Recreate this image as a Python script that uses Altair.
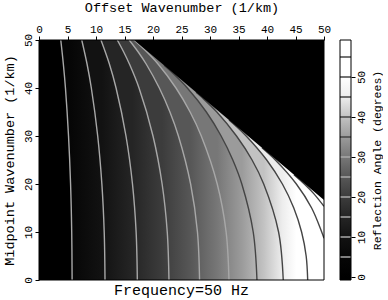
import altair as alt
import pandas as pd

# ---------------- values ----------------
x_ticks = [0, 5, 10, 15, 20, 25, 30, 35, 40, 45, 50]
y_ticks = [0, 10, 20, 30, 40, 50]
cbar_ticks = [0, 10, 20, 30, 40, 50]
cbar_range = [-0.75, 59.25]

# grey level (0-255) of the colour bar at each angle
cbar_angles = [0, 5, 10, 15, 20, 25, 30, 35, 40, 45, 50, 55, 60]
cbar_gray = [0, 6, 18, 37, 60, 87, 119, 155, 194, 237, 255, 255, 255]

# contour levels (degrees) and where each contour crosses (midpoint ky, offset kh)
levels = [5, 10, 15, 20, 25, 30, 35, 40, 45, 50, 55]
c05_ky = [0, 10, 20, 30, 40, 45, 50]
c05_kh = [5.81, 5.74, 5.54, 5.18, 4.64, 4.27, 3.82]
c10_ky = [0, 10, 20, 30, 40, 45, 50]
c10_kh = [11.58, 11.44, 11.03, 10.30, 9.18, 8.43, 7.50]
c15_ky = [0, 10, 20, 30, 40, 45, 50]
c15_kh = [17.25, 17.04, 16.40, 15.26, 13.52, 12.35, 10.87]
c20_ky = [0, 10, 20, 30, 40, 45, 47.5, 50]
c20_kh = [22.80, 22.50, 21.60, 20.00, 17.55, 15.86, 14.86, 13.73]
c25_ky = [0, 10, 20, 30, 35, 40, 45, 47.5, 50]
c25_kh = [28.17, 27.80, 26.60, 24.46, 22.97, 21.11, 18.80, 17.41, 15.82]
c30_ky = [0, 10, 20, 30, 35, 40, 45, 48, 50]
c30_kh = [33.33, 32.83, 31.27, 28.47, 26.51, 24.03, 20.88, 18.50, 16.67]
c35_ky = [0, 10, 20, 25, 30, 35, 40, 43, 44.74]
c35_kh = [38.24, 37.58, 35.58, 34.00, 31.95, 29.36, 26.02, 23.55, 21.93]
c40_ky = [0, 10, 20, 25, 30, 35, 38, 39.12]
c40_kh = [42.85, 42.03, 39.42, 37.38, 34.65, 31.20, 28.62, 27.55]
c45_ky = [0, 5, 10, 15, 20, 25, 30, 32, 33.33]
c45_kh = [47.14, 46.87, 46.07, 44.70, 42.70, 39.95, 36.35, 34.62, 33.33]
c50_ky = [8.7, 10, 15, 20, 25, 27.55]
c50_kh = [50.0, 49.6, 47.83, 45.15, 41.47, 39.12]
c55_ky = [15.35, 18, 20, 21.94]
c55_kh = [50.0, 48.2, 46.55, 44.73]

# edge of the evanescent (black) region
boundary_kh = [50.0, 16.67]
boundary_ky = [16.67, 50.0]

# ---------------- styling ----------------
FONT = "Liberation Mono"
W, H = 285, 240
CB_W = 11
REF_KY = 20

contours = list(zip(levels,
                    [c05_ky, c10_ky, c15_ky, c20_ky, c25_ky, c30_ky, c35_ky, c40_ky, c45_ky, c50_ky, c55_ky],
                    [c05_kh, c10_kh, c15_kh, c20_kh, c25_kh, c30_kh, c35_kh, c40_kh, c45_kh, c50_kh, c55_kh]))


def gray_hex(angle):
    g = cbar_gray[cbar_angles.index(angle)]
    return "#{0:02x}{0:02x}{0:02x}".format(g)


def line_color(angle):
    return "#a8a8a8" if angle <= 30 else "#444444"


xs = alt.Scale(domain=[0, 50], nice=False, zero=False)
ys = alt.Scale(domain=[0, 50], nice=False, zero=False)
x_axis = alt.Axis(orient="top", values=x_ticks, title="Offset Wavenumber (1/km)",
                  tickSize=4, labelPadding=2, titlePadding=9, domain=False,
                  labelAngle=0, labelAlign="center", labelBaseline="bottom")
y_axis = alt.Axis(orient="left", values=y_ticks, title="Midpoint Wavenumber (1/km)",
                  tickSize=4, labelPadding=2, titlePadding=6, domain=False,
                  labelAngle=270, labelAlign="center", labelBaseline="bottom")
one = pd.DataFrame({"a": [0]})


def X(field):
    return alt.X(field, scale=xs, axis=x_axis, title="Offset Wavenumber (1/km)")


def Y(field):
    return alt.Y(field, scale=ys, axis=y_axis, title="Midpoint Wavenumber (1/km)")


base = alt.Chart(one).mark_rect(fill="black").encode(
    x=alt.XDatum(0, scale=xs, axis=x_axis, title="Offset Wavenumber (1/km)"),
    x2=alt.X2Datum(50),
    y=alt.YDatum(0, scale=ys, axis=y_axis, title="Midpoint Wavenumber (1/km)"),
    y2=alt.Y2Datum(50),
)

areas = []
lines = []
for i, (lvl, kys, khs) in enumerate(contours):
    df = pd.DataFrame({"ky": kys, "kh": khs})
    m = min(khs)
    stops = []
    for lvl2, kys2, khs2 in contours[i:]:
        off = (khs2[kys2.index(REF_KY)] - m) / (50 - m)
        stops.append(alt.GradientStop(offset=round(off, 4), color=gray_hex(lvl2)))
    stops.append(alt.GradientStop(offset=1, color="#ffffff"))
    grad = alt.LinearGradient(gradient="linear", stops=stops, x1=0, x2=1, y1=0, y2=0)
    areas.append(
        alt.Chart(df).mark_area(orient="horizontal", interpolate="catmull-rom",
                                fill=grad, clip=True).encode(
            y=Y("ky:Q"), x=X("kh:Q"), x2=alt.X2Datum(50),
        )
    )
    lines.append(
        alt.Chart(df).mark_line(interpolate="catmull-rom", strokeWidth=1.4,
                                color=line_color(lvl), clip=True).encode(
            x=X("kh:Q"), y=Y("ky:Q"), order=alt.Order("ky:Q"),
        )
    )

tri = alt.Chart(pd.DataFrame({"ky": boundary_ky, "kh": boundary_kh})).mark_area(
    orient="horizontal", fill="black", clip=True).encode(
    y=Y("ky:Q"), x=X("kh:Q"), x2=alt.X2Datum(50),
)

frame = alt.Chart(one).mark_rect(fill=None, stroke="black", strokeWidth=1).encode(
    x=alt.XDatum(0, scale=xs, axis=x_axis, title="Offset Wavenumber (1/km)"),
    x2=alt.X2Datum(50),
    y=alt.YDatum(0, scale=ys, axis=y_axis, title="Midpoint Wavenumber (1/km)"),
    y2=alt.Y2Datum(50),
)

main = alt.layer(base, *areas, *lines, tri, frame).properties(
    width=W, height=H,
    title=alt.TitleParams("Frequency=50 Hz", orient="bottom", anchor="middle",
                          font=FONT, fontSize=15, fontWeight="normal", offset=0),
)

# ---------------- colour bar ----------------
lo, hi = cbar_range
cs = alt.Scale(domain=cbar_range, nice=False, zero=False)
cb_axis = alt.Axis(orient="right", values=cbar_ticks, title="Reflection Angle (degrees)",
                   tickSize=4, labelPadding=0, titlePadding=5, domain=False,
                   labelAngle=270, labelAlign="center", labelBaseline="top",
                   titleAngle=270, titleBaseline="top", titleFontSize=11.5)
cb_stops = [alt.GradientStop(offset=round((a - lo) / (hi - lo), 4), color=gray_hex(a))
            for a in cbar_angles if a <= hi]
cb_stops.append(alt.GradientStop(offset=1, color="#ffffff"))
cb_grad = alt.LinearGradient(gradient="linear", stops=cb_stops, x1=0, x2=0, y1=1, y2=0)

cb_rect = alt.Chart(one).mark_rect(fill=cb_grad).encode(
    y=alt.YDatum(lo, scale=cs, axis=cb_axis, title="Reflection Angle (degrees)"),
    y2=alt.Y2Datum(hi),
    x=alt.value(0), x2=alt.value(CB_W),
)

sep_df = pd.DataFrame({"lvl": levels, "col": [line_color(v) for v in levels]})
cb_sep = alt.Chart(sep_df).mark_rule(strokeWidth=1.5).encode(
    y=alt.Y("lvl:Q", scale=cs, axis=cb_axis, title="Reflection Angle (degrees)"),
    x=alt.value(0), x2=alt.value(CB_W),
    color=alt.Color("col:N", scale=None),
)

cb_frame = alt.Chart(one).mark_rect(fill=None, stroke="black", strokeWidth=1).encode(
    y=alt.YDatum(lo, scale=cs, axis=cb_axis, title="Reflection Angle (degrees)"),
    y2=alt.Y2Datum(hi),
    x=alt.value(0), x2=alt.value(CB_W),
)

cbar = alt.layer(cb_rect, cb_sep, cb_frame).properties(width=CB_W, height=H)

chart = alt.hconcat(main, cbar, spacing=8).properties(
    padding={"left": 2, "top": 0, "right": 0, "bottom": 0}
).configure_view(stroke=None).configure_axis(
    labelFont=FONT, titleFont=FONT, labelFontSize=11, titleFontSize=13.5,
    labelColor="black", titleColor="black", tickColor="black",
    titleFontWeight="normal", grid=False,
)

chart.save("out.html", embed_options={"renderer": "svg", "actions": False})
